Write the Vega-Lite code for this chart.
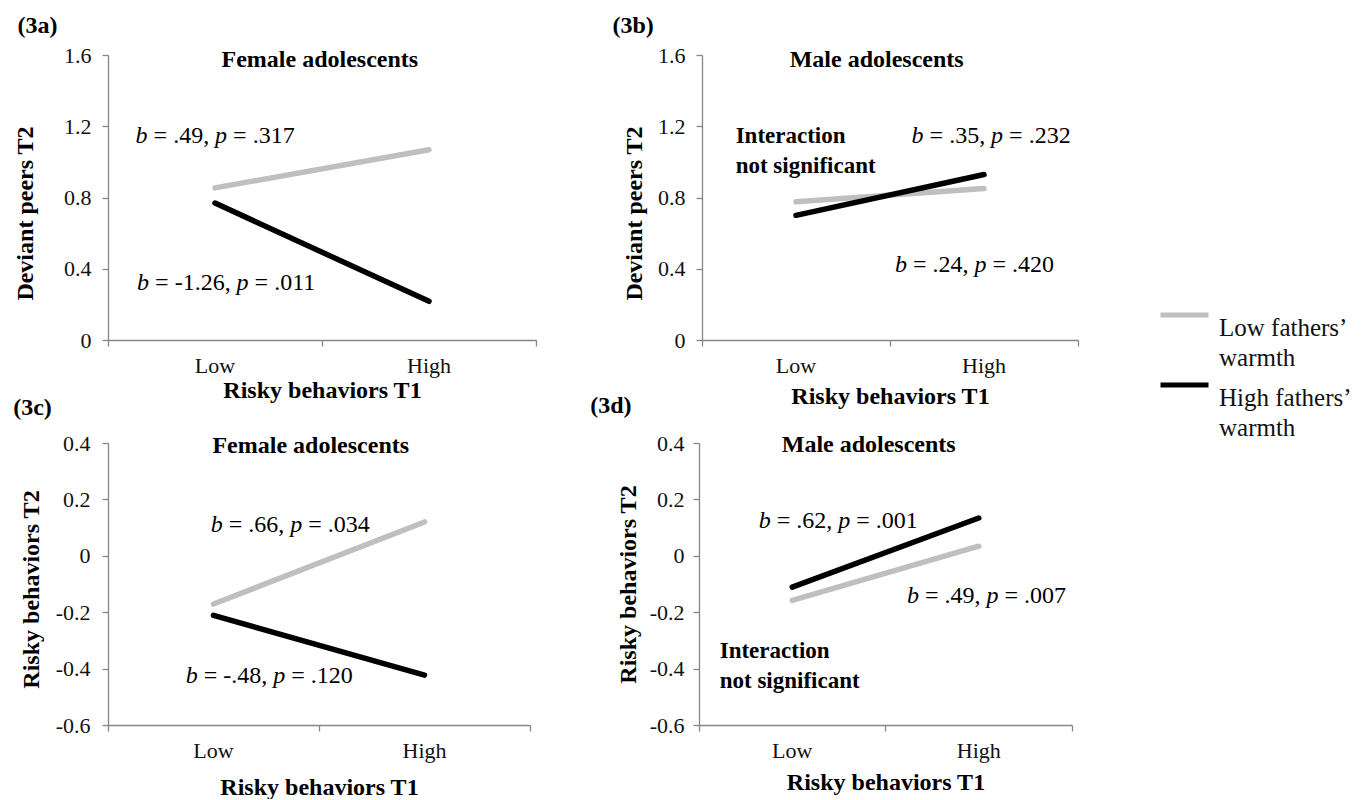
{
  "$schema": "https://vega.github.io/schema/vega-lite/v6.json",
  "background": "white",
  "padding": {"left": 13, "top": 14, "right": 5, "bottom": 0},
  "config": {
    "font": "Liberation Serif",
    "view": {"stroke": null},
    "axis": {"domainColor": "#868686", "tickColor": "#868686", "domainWidth": 1.3, "tickWidth": 1.3, "tickSize": 6, "grid": false, "labelColor": "#111111", "labelFont": "Liberation Serif", "labelFontSize": 22, "titleFont": "Liberation Serif", "titleFontSize": 24, "titleFontWeight": "bold", "titleColor": "#000000"},
    "title": {"font": "Liberation Serif", "fontSize": 24, "fontWeight": "bold", "anchor": "start", "color": "#000000"},
    "text": {"color": "#000000", "font": "Liberation Serif"},
    "legend": {"orient": "none", "legendX": 1050, "legendY": 246, "title": null, "symbolType": "M-1,0H1", "symbolSize": 2304, "symbolStrokeWidth": 5, "labelFont": "Liberation Serif", "labelFontSize": 25, "labelColor": "#111111", "labelLimit": 400, "labelOffset": 8, "rowPadding": 0, "labelBaseline": "middle"}
  },
  "datasets": {
    "pa": [
      {"t1": "Low", "warmth": "Low fathers’ warmth", "value": 0.854},
      {"t1": "High", "warmth": "Low fathers’ warmth", "value": 1.068},
      {"t1": "Low", "warmth": "High fathers’ warmth", "value": 0.769},
      {"t1": "High", "warmth": "High fathers’ warmth", "value": 0.217}
    ],
    "pb": [
      {"t1": "Low", "warmth": "Low fathers’ warmth", "value": 0.776},
      {"t1": "High", "warmth": "Low fathers’ warmth", "value": 0.851},
      {"t1": "Low", "warmth": "High fathers’ warmth", "value": 0.700},
      {"t1": "High", "warmth": "High fathers’ warmth", "value": 0.929}
    ],
    "pc": [
      {"t1": "Low", "warmth": "Low fathers’ warmth", "value": -0.171},
      {"t1": "High", "warmth": "Low fathers’ warmth", "value": 0.120},
      {"t1": "Low", "warmth": "High fathers’ warmth", "value": -0.211},
      {"t1": "High", "warmth": "High fathers’ warmth", "value": -0.423}
    ],
    "pd": [
      {"t1": "Low", "warmth": "Low fathers’ warmth", "value": -0.158},
      {"t1": "High", "warmth": "Low fathers’ warmth", "value": 0.034},
      {"t1": "Low", "warmth": "High fathers’ warmth", "value": -0.111},
      {"t1": "High", "warmth": "High fathers’ warmth", "value": 0.134}
    ]
  },
  "vconcat": [
    {
      "spacing": 75,
      "hconcat": [
        {
          "title": {"text": "(3a)", "dx": 4, "offset": 6},
          "width": 428, "height": 285,
          "layer": [
            {
              "data": {"name": "pa"},
              "mark": {"type": "line", "strokeWidth": 5.5, "strokeCap": "round"},
              "encoding": {
                "x": {"field": "t1", "type": "nominal", "scale": {"type": "band", "domain": ["Low", "High"], "paddingInner": 0, "paddingOuter": 0}, "axis": {"title": "Risky behaviors T1", "labelAngle": 0, "bandPosition": 1, "tickExtra": true, "labelPadding": 9, "titlePadding": 2}},
                "y": {"field": "value", "type": "quantitative", "scale": {"domain": [0, 1.6], "nice": false, "zero": false}, "axis": {"title": "Deviant peers T2", "titleY": 158, "values": [0, 0.4, 0.8, 1.2, 1.6], "labelExpr": "datum.value == 0 ? '0' : (datum.value < 0 ? '-' + format(-datum.value, '.1f') : format(datum.value, '.1f'))", "labelPadding": 11, "titlePadding": 26}},
                "color": {"field": "warmth", "type": "nominal", "scale": {"domain": ["Low fathers’ warmth", "High fathers’ warmth"], "range": ["#BFBFBF", "#000000"]}, "legend": {"labelExpr": "[replace(datum.label, ' warmth', ''), 'warmth']", "encode": {"labels": {"update": {"lineHeight": {"value": 30}}}, "symbols": {"update": {"y": {"value": 14}}}}}}
              }
            },
            {"data": {"values": [{}]}, "mark": {"type": "text", "text": "Female adolescents", "fontWeight": "bold", "fontSize": 24, "align": "center", "baseline": "alphabetic"}, "encoding": {"x": {"datum": "Low", "type": "nominal", "bandPosition": 0.99}, "y": {"datum": 1.533, "type": "quantitative"}}},
            {"data": {"values": [{}]}, "mark": {"type": "text", "text": "b", "fontStyle": "italic", "fontSize": 24, "align": "left", "baseline": "alphabetic", "dx": 0}, "encoding": {"x": {"datum": "Low", "type": "nominal", "bandPosition": 0.129}, "y": {"datum": 1.106, "type": "quantitative"}}},
            {"data": {"values": [{}]}, "mark": {"type": "text", "text": "= .49,", "fontSize": 24, "align": "left", "baseline": "alphabetic", "dx": 18}, "encoding": {"x": {"datum": "Low", "type": "nominal", "bandPosition": 0.129}, "y": {"datum": 1.106, "type": "quantitative"}}},
            {"data": {"values": [{}]}, "mark": {"type": "text", "text": "p", "fontStyle": "italic", "fontSize": 24, "align": "left", "baseline": "alphabetic", "dx": 79.5}, "encoding": {"x": {"datum": "Low", "type": "nominal", "bandPosition": 0.129}, "y": {"datum": 1.106, "type": "quantitative"}}},
            {"data": {"values": [{}]}, "mark": {"type": "text", "text": "= .317", "fontSize": 24, "align": "left", "baseline": "alphabetic", "dx": 97.5}, "encoding": {"x": {"datum": "Low", "type": "nominal", "bandPosition": 0.129}, "y": {"datum": 1.106, "type": "quantitative"}}},
            {"data": {"values": [{}]}, "mark": {"type": "text", "text": "b", "fontStyle": "italic", "fontSize": 24, "align": "left", "baseline": "alphabetic", "dx": 0}, "encoding": {"x": {"datum": "Low", "type": "nominal", "bandPosition": 0.136}, "y": {"datum": 0.281, "type": "quantitative"}}},
            {"data": {"values": [{}]}, "mark": {"type": "text", "text": "= -1.26,", "fontSize": 24, "align": "left", "baseline": "alphabetic", "dx": 18}, "encoding": {"x": {"datum": "Low", "type": "nominal", "bandPosition": 0.136}, "y": {"datum": 0.281, "type": "quantitative"}}},
            {"data": {"values": [{}]}, "mark": {"type": "text", "text": "p", "fontStyle": "italic", "fontSize": 24, "align": "left", "baseline": "alphabetic", "dx": 99.5}, "encoding": {"x": {"datum": "Low", "type": "nominal", "bandPosition": 0.136}, "y": {"datum": 0.281, "type": "quantitative"}}},
            {"data": {"values": [{}]}, "mark": {"type": "text", "text": "= .011", "fontSize": 24, "align": "left", "baseline": "alphabetic", "dx": 117.5}, "encoding": {"x": {"datum": "Low", "type": "nominal", "bandPosition": 0.136}, "y": {"datum": 0.281, "type": "quantitative"}}}
          ]
        },
        {
          "title": {"text": "(3b)", "dx": -10, "offset": 6},
          "width": 376, "height": 285,
          "layer": [
            {
              "data": {"name": "pb"},
              "mark": {"type": "line", "strokeWidth": 5.5, "strokeCap": "round"},
              "encoding": {
                "x": {"field": "t1", "type": "nominal", "scale": {"type": "band", "domain": ["Low", "High"], "paddingInner": 0, "paddingOuter": 0}, "axis": {"title": "Risky behaviors T1", "labelAngle": 0, "bandPosition": 1, "tickExtra": true, "labelPadding": 9, "titlePadding": 8}},
                "y": {"field": "value", "type": "quantitative", "scale": {"domain": [0, 1.6], "nice": false, "zero": false}, "axis": {"title": "Deviant peers T2", "titleY": 158, "values": [0, 0.4, 0.8, 1.2, 1.6], "labelExpr": "datum.value == 0 ? '0' : (datum.value < 0 ? '-' + format(-datum.value, '.1f') : format(datum.value, '.1f'))", "labelPadding": 11, "titlePadding": 11}},
                "color": {"field": "warmth", "type": "nominal", "scale": {"domain": ["Low fathers’ warmth", "High fathers’ warmth"], "range": ["#BFBFBF", "#000000"]}, "legend": {"labelExpr": "[replace(datum.label, ' warmth', ''), 'warmth']", "encode": {"labels": {"update": {"lineHeight": {"value": 30}}}, "symbols": {"update": {"y": {"value": 14}}}}}}
              }
            },
            {"data": {"values": [{}]}, "mark": {"type": "text", "text": "Male adolescents", "fontWeight": "bold", "fontSize": 24, "align": "center", "baseline": "alphabetic"}, "encoding": {"x": {"datum": "Low", "type": "nominal", "bandPosition": 0.929}, "y": {"datum": 1.534, "type": "quantitative"}}},
            {"data": {"values": [{}]}, "mark": {"type": "text", "text": ["Interaction", "not significant"], "fontWeight": "bold", "fontSize": 23, "lineHeight": 30, "align": "left", "baseline": "alphabetic"}, "encoding": {"x": {"datum": "Low", "type": "nominal", "bandPosition": 0.179}, "y": {"datum": 1.104, "type": "quantitative"}}},
            {"data": {"values": [{}]}, "mark": {"type": "text", "text": "b", "fontStyle": "italic", "fontSize": 24, "align": "left", "baseline": "alphabetic", "dx": 0}, "encoding": {"x": {"datum": "High", "type": "nominal", "bandPosition": 0.115}, "y": {"datum": 1.104, "type": "quantitative"}}},
            {"data": {"values": [{}]}, "mark": {"type": "text", "text": "= .35,", "fontSize": 24, "align": "left", "baseline": "alphabetic", "dx": 18}, "encoding": {"x": {"datum": "High", "type": "nominal", "bandPosition": 0.115}, "y": {"datum": 1.104, "type": "quantitative"}}},
            {"data": {"values": [{}]}, "mark": {"type": "text", "text": "p", "fontStyle": "italic", "fontSize": 24, "align": "left", "baseline": "alphabetic", "dx": 79.5}, "encoding": {"x": {"datum": "High", "type": "nominal", "bandPosition": 0.115}, "y": {"datum": 1.104, "type": "quantitative"}}},
            {"data": {"values": [{}]}, "mark": {"type": "text", "text": "= .232", "fontSize": 24, "align": "left", "baseline": "alphabetic", "dx": 97.5}, "encoding": {"x": {"datum": "High", "type": "nominal", "bandPosition": 0.115}, "y": {"datum": 1.104, "type": "quantitative"}}},
            {"data": {"values": [{}]}, "mark": {"type": "text", "text": "b", "fontStyle": "italic", "fontSize": 24, "align": "left", "baseline": "alphabetic", "dx": 0}, "encoding": {"x": {"datum": "High", "type": "nominal", "bandPosition": 0.027}, "y": {"datum": 0.383, "type": "quantitative"}}},
            {"data": {"values": [{}]}, "mark": {"type": "text", "text": "= .24,", "fontSize": 24, "align": "left", "baseline": "alphabetic", "dx": 18}, "encoding": {"x": {"datum": "High", "type": "nominal", "bandPosition": 0.027}, "y": {"datum": 0.383, "type": "quantitative"}}},
            {"data": {"values": [{}]}, "mark": {"type": "text", "text": "p", "fontStyle": "italic", "fontSize": 24, "align": "left", "baseline": "alphabetic", "dx": 79.5}, "encoding": {"x": {"datum": "High", "type": "nominal", "bandPosition": 0.027}, "y": {"datum": 0.383, "type": "quantitative"}}},
            {"data": {"values": [{}]}, "mark": {"type": "text", "text": "= .420", "fontSize": 24, "align": "left", "baseline": "alphabetic", "dx": 97.5}, "encoding": {"x": {"datum": "High", "type": "nominal", "bandPosition": 0.027}, "y": {"datum": 0.383, "type": "quantitative"}}}
          ]
        }
      ]
    },
    {
      "spacing": 59,
      "hconcat": [
        {
          "title": {"text": "(3c)", "dx": -6, "offset": 12},
          "width": 422, "height": 282,
          "layer": [
            {
              "data": {"name": "pc"},
              "mark": {"type": "line", "strokeWidth": 5.5, "strokeCap": "round"},
              "encoding": {
                "x": {"field": "t1", "type": "nominal", "scale": {"type": "band", "domain": ["Low", "High"], "paddingInner": 0, "paddingOuter": 0}, "axis": {"title": "Risky behaviors T1", "labelAngle": 0, "bandPosition": 1, "tickExtra": true, "labelPadding": 9, "titlePadding": 14}},
                "y": {"field": "value", "type": "quantitative", "scale": {"domain": [-0.6, 0.4], "nice": false, "zero": false}, "axis": {"title": "Risky behaviors T2", "titleY": 146, "values": [-0.6, -0.4, -0.2, 0, 0.2, 0.4], "labelExpr": "datum.value == 0 ? '0' : (datum.value < 0 ? '-' + format(-datum.value, '.1f') : format(datum.value, '.1f'))", "labelPadding": 12, "titlePadding": 12}},
                "color": {"field": "warmth", "type": "nominal", "scale": {"domain": ["Low fathers’ warmth", "High fathers’ warmth"], "range": ["#BFBFBF", "#000000"]}, "legend": {"labelExpr": "[replace(datum.label, ' warmth', ''), 'warmth']", "encode": {"labels": {"update": {"lineHeight": {"value": 30}}}, "symbols": {"update": {"y": {"value": 14}}}}}}
              }
            },
            {"data": {"values": [{}]}, "mark": {"type": "text", "text": "Female adolescents", "fontWeight": "bold", "fontSize": 24, "align": "center", "baseline": "alphabetic"}, "encoding": {"x": {"datum": "Low", "type": "nominal", "bandPosition": 0.961}, "y": {"datum": 0.365, "type": "quantitative"}}},
            {"data": {"values": [{}]}, "mark": {"type": "text", "text": "b", "fontStyle": "italic", "fontSize": 24, "align": "left", "baseline": "alphabetic", "dx": 0}, "encoding": {"x": {"datum": "Low", "type": "nominal", "bandPosition": 0.487}, "y": {"datum": 0.085, "type": "quantitative"}}},
            {"data": {"values": [{}]}, "mark": {"type": "text", "text": "= .66,", "fontSize": 24, "align": "left", "baseline": "alphabetic", "dx": 18}, "encoding": {"x": {"datum": "Low", "type": "nominal", "bandPosition": 0.487}, "y": {"datum": 0.085, "type": "quantitative"}}},
            {"data": {"values": [{}]}, "mark": {"type": "text", "text": "p", "fontStyle": "italic", "fontSize": 24, "align": "left", "baseline": "alphabetic", "dx": 79.5}, "encoding": {"x": {"datum": "Low", "type": "nominal", "bandPosition": 0.487}, "y": {"datum": 0.085, "type": "quantitative"}}},
            {"data": {"values": [{}]}, "mark": {"type": "text", "text": "= .034", "fontSize": 24, "align": "left", "baseline": "alphabetic", "dx": 97.5}, "encoding": {"x": {"datum": "Low", "type": "nominal", "bandPosition": 0.487}, "y": {"datum": 0.085, "type": "quantitative"}}},
            {"data": {"values": [{}]}, "mark": {"type": "text", "text": "b", "fontStyle": "italic", "fontSize": 24, "align": "left", "baseline": "alphabetic", "dx": 0}, "encoding": {"x": {"datum": "Low", "type": "nominal", "bandPosition": 0.368}, "y": {"datum": -0.452, "type": "quantitative"}}},
            {"data": {"values": [{}]}, "mark": {"type": "text", "text": "= -.48,", "fontSize": 24, "align": "left", "baseline": "alphabetic", "dx": 18}, "encoding": {"x": {"datum": "Low", "type": "nominal", "bandPosition": 0.368}, "y": {"datum": -0.452, "type": "quantitative"}}},
            {"data": {"values": [{}]}, "mark": {"type": "text", "text": "p", "fontStyle": "italic", "fontSize": 24, "align": "left", "baseline": "alphabetic", "dx": 87.5}, "encoding": {"x": {"datum": "Low", "type": "nominal", "bandPosition": 0.368}, "y": {"datum": -0.452, "type": "quantitative"}}},
            {"data": {"values": [{}]}, "mark": {"type": "text", "text": "= .120", "fontSize": 24, "align": "left", "baseline": "alphabetic", "dx": 105.5}, "encoding": {"x": {"datum": "Low", "type": "nominal", "bandPosition": 0.368}, "y": {"datum": -0.452, "type": "quantitative"}}}
          ]
        },
        {
          "title": {"text": "(3d)", "dx": -26, "offset": 14},
          "width": 373, "height": 282,
          "layer": [
            {
              "data": {"name": "pd"},
              "mark": {"type": "line", "strokeWidth": 5.5, "strokeCap": "round"},
              "encoding": {
                "x": {"field": "t1", "type": "nominal", "scale": {"type": "band", "domain": ["Low", "High"], "paddingInner": 0, "paddingOuter": 0}, "axis": {"title": "Risky behaviors T1", "labelAngle": 0, "bandPosition": 1, "tickExtra": true, "labelPadding": 9, "titlePadding": 9}},
                "y": {"field": "value", "type": "quantitative", "scale": {"domain": [-0.6, 0.4], "nice": false, "zero": false}, "axis": {"title": "Risky behaviors T2", "values": [-0.6, -0.4, -0.2, 0, 0.2, 0.4], "labelExpr": "datum.value == 0 ? '0' : (datum.value < 0 ? '-' + format(-datum.value, '.1f') : format(datum.value, '.1f'))", "labelPadding": 9, "titlePadding": 9}},
                "color": {"field": "warmth", "type": "nominal", "scale": {"domain": ["Low fathers’ warmth", "High fathers’ warmth"], "range": ["#BFBFBF", "#000000"]}, "legend": {"labelExpr": "[replace(datum.label, ' warmth', ''), 'warmth']", "encode": {"labels": {"update": {"lineHeight": {"value": 30}}}, "symbols": {"update": {"y": {"value": 14}}}}}}
              }
            },
            {"data": {"values": [{}]}, "mark": {"type": "text", "text": "Male adolescents", "fontWeight": "bold", "fontSize": 24, "align": "center", "baseline": "alphabetic"}, "encoding": {"x": {"datum": "Low", "type": "nominal", "bandPosition": 0.91}, "y": {"datum": 0.368, "type": "quantitative"}}},
            {"data": {"values": [{}]}, "mark": {"type": "text", "text": ["Interaction", "not significant"], "fontWeight": "bold", "fontSize": 23, "lineHeight": 30, "align": "left", "baseline": "alphabetic"}, "encoding": {"x": {"datum": "Low", "type": "nominal", "bandPosition": 0.111}, "y": {"datum": -0.362, "type": "quantitative"}}},
            {"data": {"values": [{}]}, "mark": {"type": "text", "text": "b", "fontStyle": "italic", "fontSize": 24, "align": "left", "baseline": "alphabetic", "dx": 0}, "encoding": {"x": {"datum": "Low", "type": "nominal", "bandPosition": 0.32}, "y": {"datum": 0.0986, "type": "quantitative"}}},
            {"data": {"values": [{}]}, "mark": {"type": "text", "text": "= .62,", "fontSize": 24, "align": "left", "baseline": "alphabetic", "dx": 18}, "encoding": {"x": {"datum": "Low", "type": "nominal", "bandPosition": 0.32}, "y": {"datum": 0.0986, "type": "quantitative"}}},
            {"data": {"values": [{}]}, "mark": {"type": "text", "text": "p", "fontStyle": "italic", "fontSize": 24, "align": "left", "baseline": "alphabetic", "dx": 79.5}, "encoding": {"x": {"datum": "Low", "type": "nominal", "bandPosition": 0.32}, "y": {"datum": 0.0986, "type": "quantitative"}}},
            {"data": {"values": [{}]}, "mark": {"type": "text", "text": "= .001", "fontSize": 24, "align": "left", "baseline": "alphabetic", "dx": 97.5}, "encoding": {"x": {"datum": "Low", "type": "nominal", "bandPosition": 0.32}, "y": {"datum": 0.0986, "type": "quantitative"}}},
            {"data": {"values": [{}]}, "mark": {"type": "text", "text": "b", "fontStyle": "italic", "fontSize": 24, "align": "left", "baseline": "alphabetic", "dx": 0}, "encoding": {"x": {"datum": "High", "type": "nominal", "bandPosition": 0.115}, "y": {"datum": -0.167, "type": "quantitative"}}},
            {"data": {"values": [{}]}, "mark": {"type": "text", "text": "= .49,", "fontSize": 24, "align": "left", "baseline": "alphabetic", "dx": 18}, "encoding": {"x": {"datum": "High", "type": "nominal", "bandPosition": 0.115}, "y": {"datum": -0.167, "type": "quantitative"}}},
            {"data": {"values": [{}]}, "mark": {"type": "text", "text": "p", "fontStyle": "italic", "fontSize": 24, "align": "left", "baseline": "alphabetic", "dx": 79.5}, "encoding": {"x": {"datum": "High", "type": "nominal", "bandPosition": 0.115}, "y": {"datum": -0.167, "type": "quantitative"}}},
            {"data": {"values": [{}]}, "mark": {"type": "text", "text": "= .007", "fontSize": 24, "align": "left", "baseline": "alphabetic", "dx": 97.5}, "encoding": {"x": {"datum": "High", "type": "nominal", "bandPosition": 0.115}, "y": {"datum": -0.167, "type": "quantitative"}}}
          ]
        }
      ]
    }
  ],
  "spacing": -14
}
